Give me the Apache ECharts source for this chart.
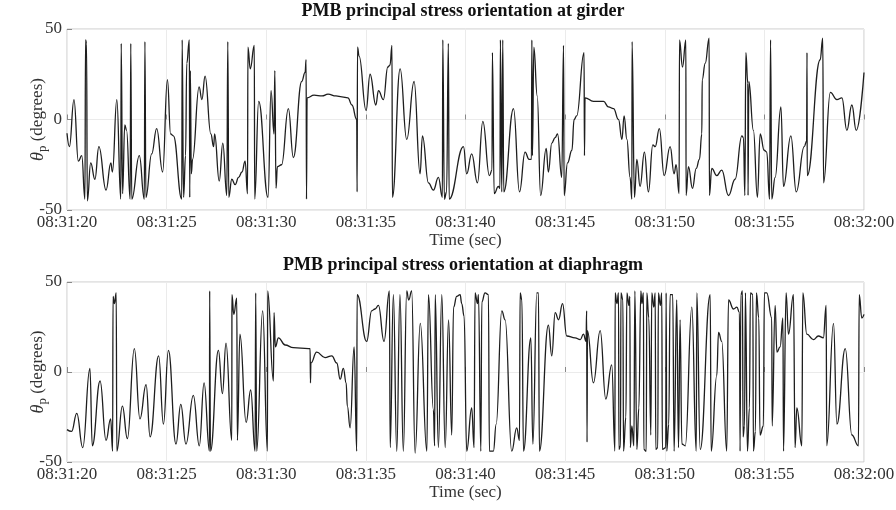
<!DOCTYPE html>
<html><head><meta charset="utf-8">
<script src="https://cdn.jsdelivr.net/npm/echarts@6/dist/echarts.min.js"></script>
<style>html,body{margin:0;padding:0;background:#fff}#c{width:896px;height:510px}</style>
</head><body><div id="c"></div>
<script>
const timeLabels = ['08:31:20','08:31:25','08:31:30','08:31:35','08:31:40','08:31:45','08:31:50','08:31:55','08:32:00'];
const yTicks = [-50, 0, 50];
const titles = ['PMB principal stress orientation at girder', 'PMB principal stress orientation at diaphragm'];

// seconds after 08:31:20 and angle in degrees — girder
const girderTime = [0,0.12,0.35,0.57,0.74,0.9,0.93,0.98,1.02,1.19,1.4,1.6,1.96,2.2,2.28,2.5,2.7,2.72,2.79,2.9,2.99,3.17,3.2,3.25,3.63,3.88,3.91,3.96,4.25,4.5,4.8,5.04,5.2,5.34,5.76,5.78,5.85,5.95,6.01,6.14,6.16,6.19,6.24,6.3,6.63,6.77,6.93,7.22,7.36,7.41,7.64,7.82,8.02,8.07,8.12,8.27,8.44,8.61,8.78,8.94,9.06,9.08,9.2,9.4,9.42,9.62,10.09,10.24,10.39,10.43,10.49,10.56,10.77,11.11,11.36,11.78,11.95,12.0,12.02,12.05,12.4,12.8,13.1,13.5,13.8,14.1,14.3,14.54,14.56,14.58,14.66,15.01,15.21,15.5,15.63,15.88,16.1,16.21,16.31,16.33,16.72,17.05,17.42,17.72,17.84,18.14,18.39,18.64,18.84,18.86,18.94,19.05,19.14,19.18,19.9,20.06,20.31,20.6,20.87,21.2,21.33,21.35,21.44,21.65,21.73,21.75,21.82,21.87,21.92,22.41,22.71,22.99,23.19,23.31,23.33,23.36,23.43,23.6,23.77,24.05,24.16,24.33,24.5,24.62,24.83,24.92,24.95,25.12,25.34,25.45,25.58,25.95,25.97,26.0,26.42,26.93,27.17,27.43,27.68,27.85,27.96,28.1,28.26,28.35,28.36,28.48,28.6,28.76,28.98,29.18,29.4,29.52,29.73,29.97,30.27,30.47,30.57,30.72,30.74,30.89,31.06,31.07,31.19,31.39,31.58,31.74,31.86,31.88,32.03,32.23,32.24,32.36,32.61,32.86,33.2,33.53,33.87,33.95,34.02,34.07,34.17,34.18,34.22,34.45,34.65,34.79,34.99,35.12,35.26,35.31,35.37,35.54,35.83,35.96,36.33,36.6,37.0,37.12,37.14,37.15,37.8,37.93,37.97,38.31,38.64,38.89,39.14,39.39,39.61,40];
const girderAngle = [-7.6,-15,11,-23,-20,-44,44,42,-45,-24,-33,-15,-39,-24,-29,11,-44,42,-41,-3,-6,-44,42,-44,-20,-44,43,-43,-19,-5,-29,22,-8,-9,-44,44,-43,-20,31,44,-43,27,-30,-22,18,11,24,-8,-15,-8,-34,-13,-42,43,-43,-33,-36,-32,-29,-23,-41,40,28,41,-44,10,-43,16,-8,27,-38,-26,-25,6,-21,21,26,33,-44,12,13.5,13,14,13,12.5,12,8,0,-40,40,35,5,25,8,16,11,29,30,41,-43,28,-11,21,-30,-9,-35,-39,-32,-43,44,-44,-40,42,-44,-15,-30,-19,-35,-1,-31,-28,37,-41,-37,-38,44,-40,44,-40,6,-40,-18,-22,-22,44,-20,40,13,-42,-16,-29,-13,-10,-8,-32,41,-42,-24,-17,0,2,37,-20,12,10,10,7,6,0,-11,2,-11,-32,-44,43,-43,-22,-37,-18,-40,-14,-15,-5,-31,-15,-30,-25,-41,44,29,44,-42,-26,-38,-27,-22,-8,22,31,45,-42,-27,-31,-28,-42,-33,-9,-10,-42,37,20,-42,21,-6,-43,-8,-17,-18,-44,44,-44,-32,7,-37,-9,-40,-15,-12,37,-31,33,45,-35,15,11,12,-6,8,-6,26];

// diaphragm
const diaphragmTime = [0,0.23,0.49,0.79,1.15,1.27,1.66,1.96,2.19,2.29,2.31,2.38,2.47,2.5,2.78,3.03,3.38,3.66,3.97,4.17,4.6,4.84,5.09,5.47,5.71,5.97,6.34,6.64,6.88,7.15,7.16,7.2,7.6,7.8,7.98,8.27,8.28,8.37,8.52,8.55,8.68,8.99,9.22,9.44,9.47,9.52,9.82,10.06,10.07,10.36,10.39,10.46,10.61,10.95,11.36,12.12,12.2,12.22,12.24,12.53,12.95,13.29,13.54,13.71,13.87,14.01,14.07,14.21,14.41,14.54,14.56,15.04,15.29,15.46,15.63,15.91,16.18,16.22,16.38,16.55,16.71,16.88,17.05,17.15,17.3,17.47,17.73,18.06,18.14,18.39,18.45,18.48,18.64,18.81,18.98,19.15,19.31,19.4,19.56,19.73,19.81,19.93,20.06,20.31,20.43,20.48,20.6,20.65,20.77,20.82,20.98,21.15,21.2,21.4,21.54,21.82,21.99,22.32,22.57,22.71,22.74,22.83,22.91,23.28,23.38,23.58,23.66,23.71,24.16,24.33,24.5,24.67,24.87,25.08,25.5,25.76,25.92,26.05,26.08,26.1,26.12,26.42,26.76,27.04,27.34,27.5,27.51,27.6,27.68,27.7,27.78,27.8,27.9,27.93,28.05,28.1,28.2,28.25,28.27,28.35,28.45,28.5,28.6,28.7,28.8,28.85,28.93,28.95,29.07,29.1,29.2,29.3,29.35,29.45,29.52,29.55,29.65,29.68,29.78,29.85,29.88,30.05,30.07,30.1,30.2,30.27,30.4,30.47,30.6,30.69,30.77,30.86,31.03,31.36,31.58,31.61,31.78,32.28,32.33,32.61,32.7,32.86,33.11,33.2,33.45,33.62,33.75,33.78,33.82,33.9,33.93,34.0,34.05,34.15,34.25,34.3,34.42,34.45,34.55,34.6,34.72,34.78,34.95,35.0,35.12,35.37,35.39,35.54,35.63,35.79,35.93,35.96,36.09,36.21,36.46,36.54,36.63,36.88,36.93,37.13,37.46,37.71,37.96,38.1,38.13,38.47,38.64,39.06,39.39,39.72,39.76,39.89,40];
const diaphragmAngle = [-32,-33,-23,-42,2,-41,-5,-38,-26,-44,42,38,44,-44,-19,-37,13,-26,-7,-36,9,-29,12,-40,-18,-40,-13,-41,-6,-44,45,-44,12,-12,16,-38,43,32,41,-38,21,-28,-10,-44,44,-44,34,-44,45,-5,33,14,19,15,13.5,13,13,-6,5,11,8,9,5,-4,2,-6,-19,-31,14,-44,43,17,34,35,37,17,45,-42,43,-44,43,-44,45,40,45,-45,27,-44,43,-21,-41,43,-42,43,-42,29,-35,36,42,43,38,31,-44,-20,-42,44,38,43,-44,39,44,43,-44,-44,-29,34,29,-44,-31,-38,44,40,-44,19,-40,44,44,-44,26,9,33,29,38,20,19,18,21,17,34,-39,23,-6,23,-15,4,-44,44,38,44,-43,-41,44,40,-44,-25,44,37,42,-42,-30,-41,45,-43,-20,45,38,44,-43,-44,44,30,-35,44,36,44,-43,-42,44,37,44,-43,-42,44,-44,-29,43,43,-44,40,-42,29,-40,-41,36,-44,44,-43,43,-44,-2,22,17,-44,40,35,36,33,-44,43,45,-36,-30,44,-44,-20,44,43,-44,-33,44,30,-35,-30,44,44,30,-30,37,11,14,30,-44,44,21,43,-42,-20,-41,44,21,18,20,19,37,-41,27,-29,13,-35,-41,43,30,32];

const pairs = (t, v) => t.map((x, i) => [x, v[i]]);
const FONT = '"Liberation Serif", "Times New Roman", serif';
const plots = [
  {top: 29, height: 181, t: girderTime, v: girderAngle},
  {top: 282, height: 180, t: diaphragmTime, v: diaphragmAngle}
];
const chart = echarts.init(document.getElementById('c'), null, {renderer: 'canvas'});
const opt = {
  animation: false,
  backgroundColor: '#fff',
  title: titles.map((s, i) => ({
    text: s, left: 458, top: i === 0 ? -3 : 251, textAlign: 'center',
    textStyle: {fontFamily: FONT, fontWeight: 'bold', fontSize: 18, color: '#111'}
  })),
  grid: plots.map(p => ({left: 67, width: 797, top: p.top, height: p.height, containLabel: false, outerBoundsMode: 'none',
    show: true, borderColor: '#c8c8c8', borderWidth: 1, backgroundColor: 'transparent'})),
  xAxis: plots.map((p, i) => ({
    type: 'value', gridIndex: i, min: 0, max: 40, interval: 5,
    name: 'Time (sec)', nameLocation: 'middle', nameGap: 22, nameMoveOverlap: false,
    nameTextStyle: {fontFamily: FONT, fontSize: 17, color: '#333'},
    axisLine: {show: false},
    axisTick: {show: true, inside: true, length: 5, lineStyle: {color: '#888'}},
    axisLabel: {fontFamily: FONT, fontSize: 17, color: '#333', margin: 4,
      formatter: v => timeLabels[Math.round(v / 5)]},
    splitLine: {show: true, lineStyle: {color: '#ebebeb', width: 1}}
  })),
  yAxis: plots.map((p, i) => ({
    type: 'value', gridIndex: i, min: yTicks[0], max: yTicks[2], interval: 50,
    name: '{th|θ}{sub|p}{n| (degrees)}', nameLocation: 'middle', nameGap: 18, nameRotate: 90, nameMoveOverlap: false,
    nameTextStyle: {fontFamily: FONT, fontSize: 17, color: '#333', lineHeight: 22,
      rich: {
        th: {fontFamily: FONT, fontStyle: 'italic', fontSize: 18, color: '#333', verticalAlign: 'middle', lineHeight: 22},
        sub: {fontFamily: FONT, fontSize: 13, color: '#333', verticalAlign: 'bottom', lineHeight: 22},
        n: {fontFamily: FONT, fontSize: 17, color: '#333', verticalAlign: 'middle', lineHeight: 22}
      }},
    axisLine: {show: false},
    axisTick: {show: true, inside: true, length: 5, lineStyle: {color: '#888'}},
    axisLabel: {fontFamily: FONT, fontSize: 17, color: '#333', margin: 5},
    splitLine: {show: true, lineStyle: {color: '#ebebeb', width: 1}}
  })),
  series: plots.map((p, i) => ({
    type: 'line', xAxisIndex: i, yAxisIndex: i, data: pairs(p.t, p.v),
    showSymbol: false, smooth: 0.45, smoothMonotone: 'x',
    lineStyle: {color: '#1e1e1e', width: 1.3}, clip: true
  }))
};
chart.setOption(opt);
</script></body></html>
